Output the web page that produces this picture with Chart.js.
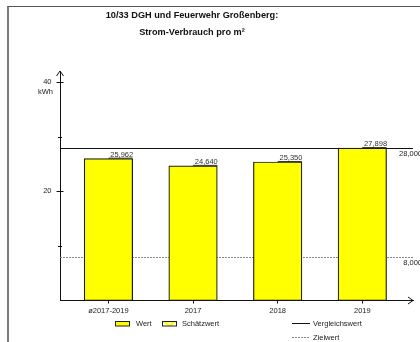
<!DOCTYPE html>
<html><head><meta charset="utf-8">
<script src="https://cdn.jsdelivr.net/npm/chart.js@4"></script>
<style>
html,body{margin:0;padding:0;background:#fff;}
#wrap{position:relative;width:420px;height:342px;overflow:hidden;}
#frame{position:absolute;left:7px;top:6px;width:500px;height:400px;border-left:2px solid #7a7a7a;border-top:1px solid #555;box-sizing:border-box;}
canvas{position:absolute;left:0;top:0;}
</style></head><body>
<div id="wrap"><div id="frame"></div><canvas id="c" width="420" height="342"></canvas></div>
<script>
const titleLines = ["10/33 DGH und Feuerwehr Großenberg:", "Strom-Verbrauch pro m²"];
const categories = ["ø2017-2019", "2017", "2018", "2019"];
const values = [25.962, 24.640, 25.350, 27.898];
const valueLabels = ["25,962", "24,640", "25,350", "27,898"];
const yTicks = [10, 20, 30, 40];
const yTickLabels = ["", "20", "", "40"];
const yUnit = "kWh";
const referenceValue = 28;
const referenceLabel = "28,000";
const targetValue = 8;
const targetLabel = "8,000";
const legendLabels = ["Wert", "Schätzwert", "Vergleichswert", "Zielwert"];

const FONT = "'Liberation Sans', Arial, sans-serif";
const TXT = '#222';

const decor = {
  id: 'decor',
  beforeDatasetsDraw(chart) {
    const ctx = chart.ctx, a = chart.chartArea, y = chart.scales.y;
    ctx.save();
    const yr = Math.round(y.getPixelForValue(referenceValue)) + 0.5;
    ctx.strokeStyle = '#111'; ctx.lineWidth = 1; ctx.setLineDash([]);
    ctx.beginPath(); ctx.moveTo(a.left, yr); ctx.lineTo(a.right, yr); ctx.stroke();
    const yt = Math.round(y.getPixelForValue(targetValue)) + 0.5;
    ctx.strokeStyle = '#888'; ctx.setLineDash([2, 1]);
    ctx.beginPath(); ctx.moveTo(a.left, yt); ctx.lineTo(a.right, yt); ctx.stroke();
    ctx.setLineDash([]);
    ctx.font = '7.5px ' + FONT; ctx.fillStyle = TXT; ctx.textAlign = 'right'; ctx.textBaseline = 'top';
    ctx.fillText(referenceLabel, 422, yr + 2);
    ctx.fillText(targetLabel, 422, yt + 2);
    ctx.restore();
  },
  afterDatasetsDraw(chart) {
    const ctx = chart.ctx;
    const meta = chart.getDatasetMeta(0);
    ctx.save();
    ctx.font = '7.5px ' + FONT; ctx.fillStyle = '#333'; ctx.textAlign = 'right'; ctx.textBaseline = 'alphabetic';
    meta.data.forEach((bar, i) => {
      const right = bar.x + bar.width / 2;
      ctx.fillText(valueLabels[i], right + 0.5, bar.y - 2);
      ctx.strokeStyle = '#333'; ctx.lineWidth = 1;
      ctx.beginPath(); ctx.moveTo(bar.x, bar.y - 0.5); ctx.lineTo(right, bar.y - 0.5); ctx.stroke();
    });
    ctx.restore();
  },
  afterDraw(chart) {
    const ctx = chart.ctx, a = chart.chartArea, y = chart.scales.y;
    ctx.save();
    ctx.strokeStyle = '#111'; ctx.lineWidth = 1;
    yTicks.forEach((v, i) => {
      const py = Math.round(y.getPixelForValue(v)) + 0.5;
      const h = yTickLabels[i] ? 3.5 : 2;
      ctx.beginPath(); ctx.moveTo(a.left - h, py); ctx.lineTo(a.left + h, py); ctx.stroke();
    });
    ctx.beginPath();
    ctx.moveTo(a.left - 3.5, a.top + 5); ctx.lineTo(a.left, a.top); ctx.lineTo(a.left + 3.5, a.top + 5);
    ctx.stroke();
    ctx.beginPath();
    ctx.moveTo(a.right - 5, a.bottom - 3.5); ctx.lineTo(a.right, a.bottom); ctx.lineTo(a.right - 5, a.bottom + 3.5);
    ctx.stroke();
    ctx.font = '7.5px ' + FONT; ctx.fillStyle = TXT; ctx.textAlign = 'right'; ctx.textBaseline = 'middle';
    ctx.fillText(yUnit, 53, y.getPixelForValue(40) + 10);
    ctx.font = 'bold 9.2px ' + FONT; ctx.fillStyle = '#111'; ctx.textAlign = 'center';
    ctx.fillText(titleLines[0], 192, 15);
    ctx.fillText(titleLines[1], 192, 32);
    ctx.font = '7.5px ' + FONT; ctx.fillStyle = TXT; ctx.textAlign = 'left';
    ctx.fillStyle = '#ffff00'; ctx.fillRect(115.5, 321.5, 14, 4.5);
    ctx.strokeStyle = '#222'; ctx.lineWidth = 1; ctx.strokeRect(115.5, 321.5, 14, 4.5);
    ctx.fillStyle = TXT; ctx.fillText(legendLabels[0], 136, 324);
    ctx.fillStyle = '#fff'; ctx.fillRect(162.5, 321.5, 14, 4.5);
    ctx.save();
    ctx.beginPath(); ctx.rect(162.5, 321.5, 14, 4.5); ctx.clip();
    ctx.strokeStyle = '#ffff00'; ctx.lineWidth = 2;
    ctx.beginPath();
    ctx.moveTo(164, 321); ctx.lineTo(169.5, 326.5); ctx.moveTo(175, 321); ctx.lineTo(169.5, 326.5);
    ctx.moveTo(162, 321.8); ctx.lineTo(177, 321.8);
    ctx.stroke();
    ctx.restore();
    ctx.strokeStyle = '#222'; ctx.lineWidth = 1; ctx.strokeRect(162.5, 321.5, 14, 4.5);
    ctx.fillStyle = TXT; ctx.fillText(legendLabels[1], 182, 324);
    ctx.strokeStyle = '#111';
    ctx.beginPath(); ctx.moveTo(292, 323.5); ctx.lineTo(310, 323.5); ctx.stroke();
    ctx.fillText(legendLabels[2], 313, 323.5);
    ctx.strokeStyle = '#888'; ctx.setLineDash([2, 1]);
    ctx.beginPath(); ctx.moveTo(292, 337.5); ctx.lineTo(310, 337.5); ctx.stroke();
    ctx.setLineDash([]);
    ctx.fillText(legendLabels[3], 313, 337.5);
    ctx.restore();
  }
};

new Chart(document.getElementById('c').getContext('2d'), {
  type: 'bar',
  data: {
    datasets: [{
      label: legendLabels[0],
      data: values.map((v, i) => ({ x: i, y: v })),
      backgroundColor: '#ffff00',
      borderColor: '#1a1a1a',
      borderWidth: 1.2,
      borderSkipped: false,
      barThickness: 48.5
    }]
  },
  options: {
    responsive: false,
    animation: false,
    events: [],
    layout: { padding: { top: 71, right: 7, bottom: 0, left: 0 } },
    plugins: { legend: { display: false }, title: { display: false }, tooltip: { enabled: false } },
    scales: {
      x: {
        type: 'linear', min: -0.572, max: 3.599, offset: false,
        afterBuildTicks(s) { s.ticks = categories.map((c, i) => ({ value: i })); },
        afterFit(s) { s.height = 41.5; },
        ticks: { callback: (v) => categories[v], font: { family: FONT, size: 7.5 }, color: TXT, padding: 3, maxRotation: 0, autoSkip: false },
        grid: { display: true, offset: false, drawOnChartArea: false, drawTicks: true, tickLength: 3, color: '#111', lineWidth: 1 },
        border: { display: true, color: '#111', width: 1 }
      },
      y: {
        type: 'linear', min: 0, max: 42,
        afterBuildTicks(s) { s.ticks = yTicks.map(v => ({ value: v })); },
        afterFit(s) { s.width = 60; },
        ticks: { callback: (v) => yTickLabels[yTicks.indexOf(v)], font: { family: FONT, size: 7.5 }, color: TXT, padding: 8.5 },
        grid: { display: false, drawTicks: false, tickLength: 0 },
        border: { display: true, color: '#111', width: 1 }
      }
    }
  },
  plugins: [decor]
});
</script>
</body></html>
